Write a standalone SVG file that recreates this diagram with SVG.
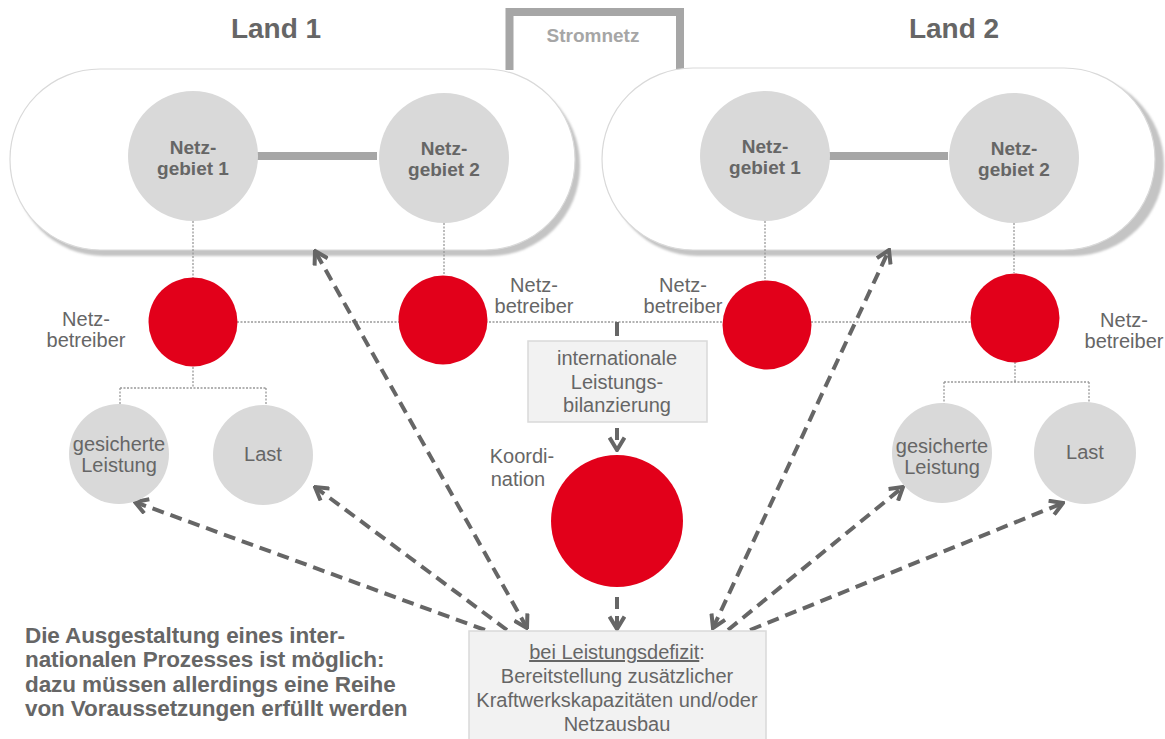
<svg xmlns="http://www.w3.org/2000/svg" width="1165" height="739" viewBox="0 0 1165 739">
<style>
.t{font-family:"Liberation Sans",Arial,sans-serif;fill:#666;font-size:20px;text-anchor:middle}
.b{font-weight:bold}
.ngt{font-size:19px}
.title{font-size:28px}
.sn{font-size:19px;fill:#a6a6a6}
.fz{font-size:22.5px;text-anchor:start;letter-spacing:-0.1px}
.ng{fill:#d9d9d9}
.red{fill:#e2001a}
.pill{fill:#fff;stroke:#d9d9d9;stroke-width:1.2}
.shadow{fill:#c4c4c4}
.dot{fill:none;stroke:#999;stroke-width:1.3;stroke-dasharray:2 1.5}
.dash{fill:none;stroke:#666;stroke-width:4;stroke-dasharray:12 7}
.bar{fill:none;stroke:#a6a6a6;stroke-width:8}
.box{fill:#f2f2f2;stroke:#d9d9d9;stroke-width:1.5}
</style>
<defs>
<marker id="ah" viewBox="0 0 16 18" refX="14" refY="9" markerWidth="16" markerHeight="18" markerUnits="userSpaceOnUse" orient="auto-start-reverse">
<path d="M1.5,1.5 L14,9 L1.5,16.5" fill="none" stroke="#666" stroke-width="4" stroke-dasharray="none"/>
</marker>
<filter id="blur" x="-5%" y="-10%" width="110%" height="120%"><feGaussianBlur stdDeviation="1.2"/></filter>
</defs>

<g id="land1-title"><text class="t b title" x="276" y="38">Land 1</text></g>
<g id="land2-title"><text class="t b title" x="954" y="38">Land 2</text></g>

<g id="stromnetz">
<path class="bar" d="M509.5,70 V12 H680 V70"/>
<text class="t b sn" x="593" y="42">Stromnetz</text>
</g>

<g id="land1">
<rect class="shadow" x="14" y="75" width="566" height="181" rx="90" filter="url(#blur)"/>
<rect class="pill" x="10" y="69" width="565" height="181" rx="90"/>
</g>
<g id="land2">
<rect class="shadow" x="607" y="74" width="557" height="182" rx="91" filter="url(#blur)"/>
<rect class="pill" x="602" y="68" width="553" height="182" rx="91"/>
</g>

<g id="connectors">
<path class="bar" d="M257,156 H377"/>
<path class="bar" d="M828,156 H948"/>
<path class="dot" d="M193,221 V278 M444,223 V275 M765,221 V281 M1014,223 V273"/>
<path class="dot" d="M237,322 H972"/>
<path class="dot" d="M193,367 V388 M120,388 H266 M120,388 V406 M266,388 V407"/>
<path class="dot" d="M1015,362 V382 M944,382 H1089 M944,382 V405 M1089,382 V404"/>
<path d="M617,322 V336" stroke="#666" stroke-width="4" fill="none"/>
<path class="dash" d="M617,428 V450" marker-end="url(#ah)"/>
<path class="dash" d="M617,597 V629" marker-end="url(#ah)"/>
<path class="dash" d="M485,630 L135,502" marker-end="url(#ah)"/>
<path class="dash" d="M507,630 L315,487" marker-end="url(#ah)"/>
<path class="dash" d="M527,628 L315,251" marker-start="url(#ah)" marker-end="url(#ah)"/>
<path class="dash" d="M713,628 L889,250" marker-start="url(#ah)" marker-end="url(#ah)"/>
<path class="dash" d="M728,630 L903,487" marker-end="url(#ah)"/>
<path class="dash" d="M750,630 L1063,503" marker-end="url(#ah)"/>
</g>

<g id="ng1-l1"><circle class="ng" cx="193" cy="156" r="65"/><text class="t b ngt" x="193" y="154">Netz-</text><text class="t b ngt" x="193" y="175">gebiet 1</text></g>
<g id="ng2-l1"><circle class="ng" cx="444" cy="158" r="65"/><text class="t b ngt" x="444" y="155">Netz-</text><text class="t b ngt" x="444" y="176">gebiet 2</text></g>
<g id="ng1-l2"><circle class="ng" cx="765" cy="156" r="65"/><text class="t b ngt" x="765" y="153">Netz-</text><text class="t b ngt" x="765" y="174">gebiet 1</text></g>
<g id="ng2-l2"><circle class="ng" cx="1014" cy="158" r="65"/><text class="t b ngt" x="1014" y="155">Netz-</text><text class="t b ngt" x="1014" y="176">gebiet 2</text></g>

<g id="nb1-l1"><circle class="red" cx="193" cy="322" r="44.5"/><text class="t" x="86" y="326">Netz-</text><text class="t" x="86" y="347">betreiber</text></g>
<g id="nb2-l1"><circle class="red" cx="443" cy="320" r="44.5"/><text class="t" x="534" y="292">Netz-</text><text class="t" x="534" y="313">betreiber</text></g>
<g id="nb1-l2"><circle class="red" cx="767" cy="325" r="44.5"/><text class="t" x="683" y="292">Netz-</text><text class="t" x="683" y="313">betreiber</text></g>
<g id="nb2-l2"><circle class="red" cx="1015" cy="318" r="44.5"/><text class="t" x="1124" y="327">Netz-</text><text class="t" x="1124" y="348">betreiber</text></g>

<g id="gl-l1"><circle class="ng" cx="119" cy="454" r="50"/><text class="t" x="119" y="451">gesicherte</text><text class="t" x="119" y="472">Leistung</text></g>
<g id="last-l1"><circle class="ng" cx="263" cy="455" r="50"/><text class="t" x="263" y="461">Last</text></g>
<g id="gl-l2"><circle class="ng" cx="942" cy="453" r="50"/><text class="t" x="942" y="453">gesicherte</text><text class="t" x="942" y="474">Leistung</text></g>
<g id="last-l2"><circle class="ng" cx="1085" cy="453" r="51"/><text class="t" x="1085" y="459">Last</text></g>

<g id="bilanz"><rect class="box" x="528" y="341" width="179" height="81"/>
<text class="t" x="617" y="365">internationale</text><text class="t" x="617" y="389">Leistungs-</text><text class="t" x="617" y="412">bilanzierung</text></g>

<g id="koordination"><circle class="red" cx="617" cy="521" r="66"/><text class="t" x="522" y="463">Koordi-</text><text class="t" x="518" y="486">nation</text></g>

<g id="defizit"><rect class="box" x="469" y="631" width="297" height="112"/>
<text class="t" x="617" y="659"><tspan text-decoration="underline">bei Leistungsdefizit</tspan>:</text>
<text class="t" x="617" y="683">Bereitstellung zusätzlicher</text>
<text class="t" x="617" y="707">Kraftwerkskapazitäten und/oder</text>
<text class="t" x="617" y="731">Netzausbau</text></g>

<g id="fazit">
<text class="t b fz" x="25" y="643">Die Ausgestaltung eines inter-</text>
<text class="t b fz" x="25" y="667">nationalen Prozesses ist möglich:</text>
<text class="t b fz" x="25" y="692">dazu müssen allerdings eine Reihe</text>
<text class="t b fz" x="25" y="716">von Voraussetzungen erfüllt werden</text>
</g>
</svg>
